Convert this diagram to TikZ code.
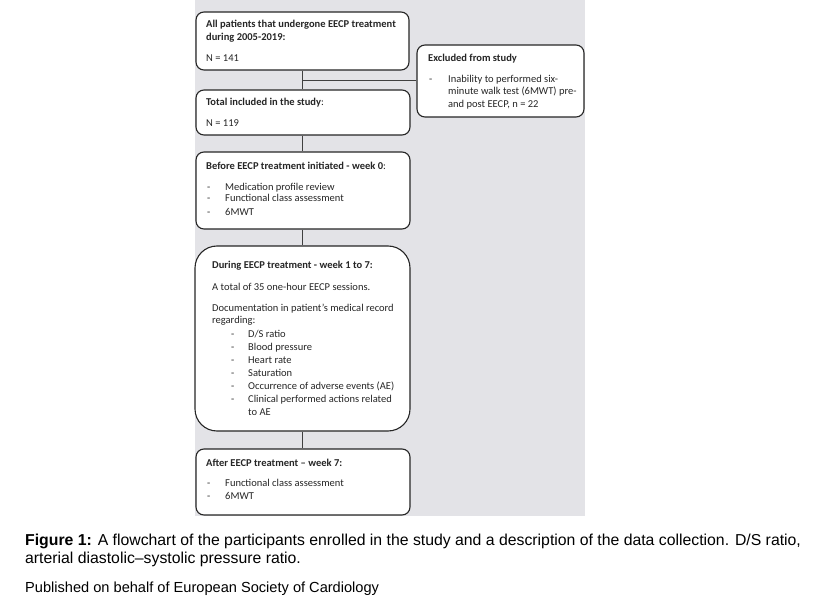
\documentclass[tikz,border=0pt]{standalone}
\usepackage{fontspec}
\setmainfont{Carlito}
\newfontfamily\arial{Liberation Sans}
\definecolor{bggray}{HTML}{E3E3E7}
\begin{document}
\begin{tikzpicture}[x=1pt,y=-1pt,
  box/.style={draw=black!85,line width=1.1pt,fill=white,rounded corners=8pt,inner sep=0pt},
  bigbox/.style={box,rounded corners=22pt},
  txt/.style={anchor=base west,inner sep=0pt,font=\fontsize{10.5}{12}\selectfont,text=black!85},
  btxt/.style={txt,font=\fontsize{10.5}{12}\selectfont\bfseries},
  captxt/.style={anchor=base west,inner sep=0pt,font=\arial\fontsize{15.8}{18}\selectfont},
  conn/.style={draw=black!75,line width=0.8pt}]
\useasboundingbox (0,0) rectangle (820,599);
\fill[bggray] (195,0) rectangle (585,516);
\node[box,minimum width=213,minimum height=58] (b1) at (302.5,41) {};
\node[box,minimum width=167,minimum height=72] (ex) at (500.5,81) {};
\node[box,minimum width=214,minimum height=45] (b2) at (303,112.5) {};
\node[box,minimum width=214,minimum height=77] (b3) at (303,190.5) {};
\node[bigbox,minimum width=215,minimum height=185] (b4) at (302.5,338.5) {};
\node[box,minimum width=214,minimum height=66] (b5) at (303,482) {};
\coordinate (j) at (302,80);
\draw[conn] (b1.south -| j) -- (b2.north -| j);
\draw[conn] (j) -- (ex.west |- j);
\draw[conn] (b2.south -| j) -- (b3.north -| j);
\draw[conn] (b3.south -| j) -- (b4.north -| j);
\draw[conn] (b4.south -| j) -- (b5.north -| j);
% box1
\node[btxt] (t1a) at (206,28) {All patients that undergone EECP treatment};
\node[btxt] (t1b) at (206,41) {during 2005-2019:};
\node[txt] (t1c) at (206,62) {N = 141};
% excluded
\node[btxt] (te) at (428,62) {Excluded from study};
\node[txt] (ted) at (429,83) {-};
\node[txt] (te1) at (448,83) {Inability to performed six-};
\node[txt] (te2) at (448,95) {minute walk test (6MWT) pre-};
\node[txt] (te3) at (448,108) {and post EECP, n = 22};
% box2
\node[txt] (t2a) at (206,106) {\textbf{Total included in the study}:};
\node[txt] (t2b) at (206,127) {N = 119};
% box3
\node[txt] (t3a) at (206,170) {\textbf{Before EECP treatment initiated - week 0}:};
\foreach \y/\s [count=\i] in {190/Medication profile review,202/Functional class assessment,215/6MWT}{
  \node[txt] (d3\i) at (207,\y) {-};
  \node[txt] (s3\i) at (225,\y) {\s};}
% box4
\node[btxt] (t4a) at (212,269) {During EECP treatment - week 1 to 7:};
\node[txt] (t4b) at (212,290) {A total of 35 one-hour EECP sessions.};
\node[txt] (t4c) at (212,311) {Documentation in patient’s medical record};
\node[txt] (t4d) at (212,323) {regarding:};
\foreach \y/\s [count=\i] in {337/{D/S ratio},350/Blood pressure,363/Heart rate,376/Saturation,389/Occurrence of adverse events (AE),402/Clinical performed actions related}{
  \node[txt] (d4\i) at (231,\y) {-};
  \node[txt] (s4\i) at (248,\y) {\s};}
\node[txt] (s47) at (248,415) {to AE};
% box5
\node[btxt] (t5a) at (206,466) {After EECP treatment – week 7:};
\foreach \y/\s [count=\i] in {486/Functional class assessment,499/6MWT}{
  \node[txt] (d5\i) at (207,\y) {-};
  \node[txt] (s5\i) at (225,\y) {\s};}
% caption
\node[captxt] (c1) at (25,545) {\textbf{Figure 1:} A flowchart of the participants enrolled in the study and a description of the data collection. D/S ratio,};
\node[captxt] (c2) at (25,563) {arterial diastolic–systolic pressure ratio.};
\node[captxt,font=\arial\fontsize{14.6}{17}\selectfont] (c3) at (25,592) {Published on behalf of European Society of Cardiology};
\end{tikzpicture}
\end{document}
